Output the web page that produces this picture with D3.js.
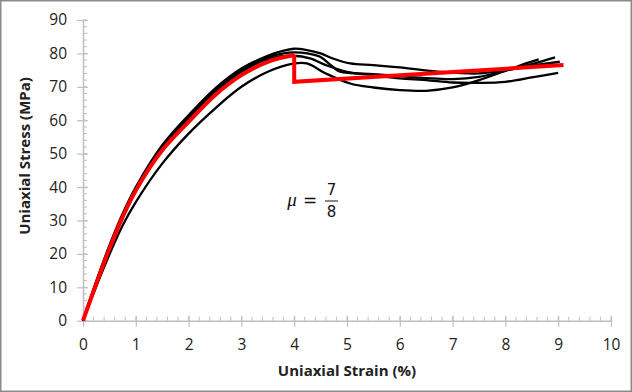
<!DOCTYPE html>
<html>
<head>
<meta charset="utf-8">
<script src="https://cdn.jsdelivr.net/npm/d3@7"></script>
<style>
  body { margin: 0; background: #fff; }
  svg { display: block; }
</style>
</head>
<body>
<div id="chart"></div>
<script>
// strain (%) and stress (MPa), one pair of arrays per specimen
var spec1Strain = [0, 0.25, 0.5, 0.75, 1, 1.5, 2, 2.5, 3, 3.5, 3.8, 4.0, 4.24, 4.5, 4.73, 5.06, 5.5, 6, 6.76, 7.5, 8, 8.5, 9.03];
var spec1Stress = [0, 11.8, 22.5, 32, 40, 52.5, 61.5, 69.5, 75.5, 79.3, 80.8, 81.4, 81, 80, 78.5, 77, 76.5, 75.8, 74.5, 74, 75, 76.3, 77.5];

var spec2Strain = [0, 0.25, 0.5, 0.75, 1, 1.5, 2, 2.5, 3, 3.5, 3.8, 4.0, 4.25, 4.49, 4.73, 4.87, 5.5, 6, 6.5, 7, 7.5, 8, 8.5, 8.94];
var spec2Stress = [0, 11.5, 22, 31.5, 39.5, 52, 61, 69, 75, 78.8, 80, 80.3, 80, 79, 76, 74.5, 73.8, 73.2, 72.6, 72.3, 73, 74.8, 76.8, 78.8];

var spec3Strain = [0, 0.25, 0.5, 0.75, 1, 1.5, 2, 2.5, 3, 3.5, 4.0, 4.3, 4.6, 5, 5.5, 6, 6.5, 7, 7.5, 8, 8.5, 9.0];
var spec3Stress = [0, 11.2, 21.5, 31, 39, 51.5, 60.5, 68.5, 74.5, 78.3, 79.3, 78.5, 76.5, 74.5, 73.5, 72.5, 72, 71.3, 71.2, 71.5, 72.8, 74.2];

var spec4Strain = [0, 0.25, 0.5, 0.75, 1, 1.5, 2, 2.5, 3, 3.5, 4.0, 4.24, 4.6, 5.06, 5.5, 6, 6.5, 7, 7.5, 8, 8.3, 8.63];
var spec4Stress = [0, 10.2, 19.8, 28.5, 35.5, 47, 56, 63.5, 70, 74.5, 77, 77, 74, 71, 69.8, 69, 68.8, 69.8, 72, 74.8, 76.5, 78.2];

// model curve (red)
var modelStrain = [0, 0.25, 0.5, 0.75, 1, 1.5, 2, 2.5, 3, 3.5, 4, 4, 9.1];
var modelStress = [0, 11, 21.5, 31, 39, 51, 59.5, 67.5, 73.5, 77.5, 79.5, 71.5, 76.5];

var xTicks = [0, 1, 2, 3, 4, 5, 6, 7, 8, 9, 10];
var yTicks = [0, 10, 20, 30, 40, 50, 60, 70, 80, 90];

var w = 632, h = 392;
var plotLeft = 83, plotRight = 611, plotTop = 20, plotBottom = 320.7;
var axisColor = "#bfbfbf";
var font = "'Open Sans', 'Noto Sans', sans-serif";

var svg = d3.select("#chart").append("svg")
    .attr("width", w)
    .attr("height", h);

svg.append("rect")
    .attr("x", 0.75).attr("y", 0.75)
    .attr("width", w - 1.5).attr("height", h - 1.5)
    .attr("fill", "#fff")
    .attr("stroke", "#8a8a8a")
    .attr("stroke-width", 1.5);

var xScale = d3.scaleLinear().domain([0, 10]).range([plotLeft, plotRight]);
var yScale = d3.scaleLinear().domain([0, 90]).range([plotBottom, plotTop]);

// minor ticks (inside)
var xMinor = d3.range(0, 10.001, 0.2);
var yMinor = d3.range(0, 90.001, 2);

svg.append("g").selectAll("line")
    .data(xMinor)
    .enter().append("line")
    .attr("x1", function (d) { return xScale(d); })
    .attr("x2", function (d) { return xScale(d); })
    .attr("y1", plotBottom)
    .attr("y2", plotBottom - 4)
    .attr("stroke", axisColor)
    .attr("stroke-width", 1);

svg.append("g").selectAll("line")
    .data(yMinor)
    .enter().append("line")
    .attr("y1", function (d) { return yScale(d); })
    .attr("y2", function (d) { return yScale(d); })
    .attr("x1", plotLeft)
    .attr("x2", plotLeft + 4)
    .attr("stroke", axisColor)
    .attr("stroke-width", 1);

// major axes
var xAxis = d3.axisBottom(xScale).tickValues(xTicks).tickSize(6).tickSizeOuter(0).tickPadding(12);
var yAxis = d3.axisLeft(yScale).tickValues(yTicks).tickSize(6).tickSizeOuter(0).tickPadding(10);

var gx = svg.append("g")
    .attr("transform", "translate(0," + plotBottom + ")")
    .call(xAxis);
var gy = svg.append("g")
    .attr("transform", "translate(" + plotLeft + ",0)")
    .call(yAxis);

[gx, gy].forEach(function (g) {
    g.select(".domain").attr("stroke", axisColor).attr("stroke-width", 1.5);
    g.selectAll(".tick line").attr("stroke", axisColor).attr("stroke-width", 1.2);
    g.selectAll(".tick text")
        .attr("fill", "#222")
        .style("font-family", font)
        .style("font-size", "15.5px");
});
// make major ticks cross the axis
gx.selectAll(".tick line").attr("y1", -5).attr("y2", 6);
gy.selectAll(".tick line").attr("x1", 5).attr("x2", -6);

// axis titles
svg.append("text")
    .text("Uniaxial Strain (%)")
    .attr("x", 347)
    .attr("y", 376)
    .attr("text-anchor", "middle")
    .attr("font-weight", "bold")
    .style("font-family", font)
    .style("font-size", "15px")
    .attr("fill", "#222");

svg.append("text")
    .text("Uniaxial Stress (MPa)")
    .attr("transform", "translate(30,156) rotate(-90)")
    .attr("text-anchor", "middle")
    .attr("font-weight", "bold")
    .style("font-family", font)
    .style("font-size", "15px")
    .attr("fill", "#222");

// curves
var line = d3.line()
    .x(function (d) { return xScale(d[0]); })
    .y(function (d) { return yScale(d[1]); })
    .curve(d3.curveCatmullRom.alpha(0.5));

var specimens = [
    [spec1Strain, spec1Stress],
    [spec2Strain, spec2Stress],
    [spec3Strain, spec3Stress],
    [spec4Strain, spec4Stress]
];

svg.append("g").selectAll("path")
    .data(specimens)
    .enter().append("path")
    .attr("d", function (s) { return line(d3.zip(s[0], s[1])); })
    .attr("fill", "none")
    .attr("stroke", "#000")
    .attr("stroke-width", 2.3);

// red model: smooth rise, then vertical drop and straight line
var modelPts = d3.zip(modelStrain, modelStress);
var rise = modelPts.slice(0, 11);
var tail = modelPts.slice(10);

svg.append("path")
    .attr("d", line(rise))
    .attr("fill", "none")
    .attr("stroke", "#ff0000")
    .attr("stroke-width", 4);

svg.append("path")
    .attr("d", d3.line()
        .x(function (d) { return xScale(d[0]); })
        .y(function (d) { return yScale(d[1]); })(tail))
    .attr("fill", "none")
    .attr("stroke", "#ff0000")
    .attr("stroke-width", 4)
    .attr("stroke-linejoin", "miter");

// formula  mu = 7/8
var f = svg.append("g").attr("fill", "#111");
f.append("text")
    .text("\u03bc")
    .attr("x", 292).attr("y", 206)
    .attr("text-anchor", "middle")
    .style("font-family", "'Liberation Serif', serif")
    .style("font-style", "italic")
    .style("font-size", "19px");
f.append("text")
    .text("=")
    .attr("x", 310).attr("y", 206)
    .attr("text-anchor", "middle")
    .style("font-family", "'DejaVu Sans', sans-serif")
    .style("font-size", "17px");
f.append("line")
    .attr("x1", 325).attr("x2", 338)
    .attr("y1", 201).attr("y2", 201)
    .attr("stroke", "#111").attr("stroke-width", 1);
f.append("text")
    .text("7")
    .attr("x", 331.5).attr("y", 195)
    .attr("text-anchor", "middle")
    .style("font-family", "'DejaVu Sans', sans-serif")
    .style("font-size", "15px");
f.append("text")
    .text("8")
    .attr("x", 331.5).attr("y", 217)
    .attr("text-anchor", "middle")
    .style("font-family", "'DejaVu Sans', sans-serif")
    .style("font-size", "15px");
</script>
</body>
</html>
